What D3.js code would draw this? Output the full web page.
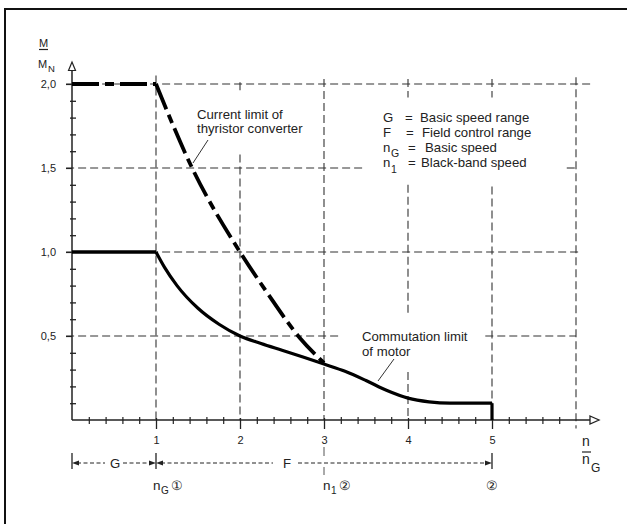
<!DOCTYPE html>
<html>
<head>
<meta charset="utf-8">
<script src="https://cdn.jsdelivr.net/npm/d3@7"></script>
<style>
  body { margin: 0; background: #fff; }
  text { font-family: "Liberation Sans", Arial, Helvetica, sans-serif; fill: #222; }
</style>
</head>
<body>
<svg id="chart" width="627" height="524"></svg>
<script>
// x: speed ratio n/nG, y: torque ratio M/MN
var xMajor = [1, 2, 3, 4, 5];
var xMajorLabels = ["1", "2", "3", "4", "5"];
var yMajor = [0.5, 1.0, 1.5, 2.0];
var yMajorLabels = ["0,5", "1,0", "1,5", "2,0"];

// current limit of thyristor converter
var currentFlatN = [0, 1];
var currentFlatM = [2.0, 2.0];
var currentN = [1, 1.43, 2, 2.32, 2.71, 3];
var currentM = [2.0, 1.5, 1.0, 0.76, 0.49, 0.34];

// commutation limit of motor
var commFlatN = [0, 1];
var commFlatM = [1.0, 1.0];
var commN = [1, 1.1, 1.25, 1.5, 1.75, 2, 2.25, 2.5, 2.75, 3, 3.25, 3.5, 3.75, 4, 4.25, 4.5, 5];
var commM = [1.0, 0.91, 0.8, 0.665, 0.57, 0.5, 0.455, 0.415, 0.375, 0.333, 0.29, 0.235, 0.175, 0.13, 0.108, 0.1, 0.1];
var commEndN = [5, 5];
var commEndM = [0.1, 0];

// grid pieces (the drawing leaves gaps for the labels)
var gridH = [
  {m: 2.0, spans: [[-0.07, 6.2]]},
  {m: 1.5, spans: [[-0.07, 3.49], [5.89, 6]]},
  {m: 1.0, spans: [[-0.07, 6.05]]},
  {m: 0.5, spans: [[-0.07, 3.17], [4.92, 6]]}
];
var gridV = [
  {n: 1, spans: [[0, 2.05]]},
  {n: 2, spans: [[1.95, 2.01], [0, 1.58]]},
  {n: 3, spans: [[0, 2.03]]},
  {n: 4, spans: [[1.92, 2.03], [0.625, 1.4], [0, 0.286]]},
  {n: 5, spans: [[1.92, 2.03], [0, 1.39]]},
  {n: 6, spans: [[-0.05, 2.04]]}
];

var svg = d3.select("#chart");
var x = d3.scaleLinear().domain([0, 6]).range([72, 576]);
var y = d3.scaleLinear().domain([0, 2]).range([420, 84]);

function pts(ns, ms) {
  return ns.map(function (n, i) { return [n, ms[i]]; });
}

// frame (only top and left edge visible)
svg.append("path")
  .attr("d", "M5,524 V9 H627")
  .attr("fill", "none").attr("stroke", "#111").attr("stroke-width", 2);

// grid
var grid = svg.append("g").attr("stroke", "#333").attr("stroke-width", 1.1)
  .attr("stroke-dasharray", "8,4");
gridH.forEach(function (g) {
  g.spans.forEach(function (s) {
    grid.append("line").attr("x1", x(s[0])).attr("x2", x(s[1]))
      .attr("y1", y(g.m)).attr("y2", y(g.m));
  });
});
gridV.forEach(function (g) {
  g.spans.forEach(function (s) {
    grid.append("line").attr("x1", x(g.n)).attr("x2", x(g.n))
      .attr("y1", y(s[1])).attr("y2", y(s[0]));
  });
});

// x axis
var xAxis = d3.axisBottom(x)
  .tickValues(xMajor)
  .tickFormat(function (d, i) { return xMajorLabels[i]; })
  .tickSize(9);
var gx = svg.append("g").attr("transform", "translate(0," + y(0) + ")").call(xAxis);
gx.select(".domain").remove();
gx.selectAll("line").attr("y1", -2).attr("stroke", "#222").attr("stroke-width", 1.3);
gx.selectAll("text").attr("y", 24).attr("dy", 0).attr("font-size", 11)
  .attr("font-family", "Liberation Sans, Arial, sans-serif").attr("fill", "#333");

var xMinor = d3.range(1, 30).map(function (i) { return i / 5; })
  .filter(function (v) { return Math.abs(v - Math.round(v)) > 0.01; });
var gxm = svg.append("g").attr("transform", "translate(0," + y(0) + ")")
  .call(d3.axisBottom(x).tickValues(xMinor).tickSize(4).tickFormat(""));
gxm.select(".domain").remove();
gxm.selectAll("line").attr("y1", -3).attr("stroke", "#222").attr("stroke-width", 1.2);

svg.append("line").attr("x1", x(0)).attr("x2", 590).attr("y1", y(0)).attr("y2", y(0))
  .attr("stroke", "#222").attr("stroke-width", 1.5);
svg.append("path").attr("d", "M590,416 L599,420 L590,424 Z")
  .attr("fill", "#fff").attr("stroke", "#222").attr("stroke-width", 1.3);

// y axis
var yAxis = d3.axisLeft(y)
  .tickValues(yMajor)
  .tickFormat(function (d, i) { return yMajorLabels[i]; })
  .tickSize(6);
var gy = svg.append("g").attr("transform", "translate(" + x(0) + ",0)").call(yAxis);
gy.select(".domain").remove();
gy.selectAll("line").attr("stroke", "#222").attr("stroke-width", 1.2);
gy.selectAll("text").attr("x", -16).attr("font-size", 11)
  .attr("font-family", "Liberation Sans, Arial, sans-serif").attr("fill", "#333");

var yMinor = d3.range(1, 21).map(function (i) { return i / 10; })
  .filter(function (v) { return Math.abs(v * 2 - Math.round(v * 2)) > 0.01; });
var gym = svg.append("g").attr("transform", "translate(" + x(0) + ",0)")
  .call(d3.axisLeft(y).tickValues(yMinor).tickSize(2).tickFormat(""));
gym.select(".domain").remove();
gym.selectAll("line").attr("x2", 4).attr("x1", -2).attr("stroke", "#222").attr("stroke-width", 1.3);

svg.append("line").attr("x1", x(0)).attr("x2", x(0)).attr("y1", y(0)).attr("y2", 70)
  .attr("stroke", "#222").attr("stroke-width", 1.5);
svg.append("path").attr("d", "M68.5,70.5 L72,62 L75.5,70.5 Z")
  .attr("fill", "#fff").attr("stroke", "#222").attr("stroke-width", 1.2);

// curves
var straight = d3.line().x(function (d) { return x(d[0]); }).y(function (d) { return y(d[1]); });
var smooth = d3.line().x(function (d) { return x(d[0]); }).y(function (d) { return y(d[1]); })
  .curve(d3.curveMonotoneX);

var dashCurrent = "27,6,9,6";
svg.append("path").attr("d", straight(pts(currentFlatN, currentFlatM)))
  .attr("fill", "none").attr("stroke", "#000").attr("stroke-width", 4)
  .attr("stroke-dasharray", dashCurrent);
svg.append("path").attr("d", smooth(pts(currentN, currentM)))
  .attr("fill", "none").attr("stroke", "#000").attr("stroke-width", 3.8)
  .attr("stroke-dasharray", dashCurrent);

svg.append("path").attr("d", straight(pts(commFlatN, commFlatM)))
  .attr("fill", "none").attr("stroke", "#000").attr("stroke-width", 3.5);
svg.append("path").attr("d", smooth(pts(commN, commM)))
  .attr("fill", "none").attr("stroke", "#000").attr("stroke-width", 3.2);
svg.append("path").attr("d", straight(pts(commEndN, commEndM)))
  .attr("fill", "none").attr("stroke", "#000").attr("stroke-width", 3.2);

// annotations
var fs = 13.2;
function label(tx, ty, str, size) {
  return svg.append("text").attr("x", tx).attr("y", ty).attr("font-size", size || fs).text(str);
}
label(197, 119, "Current limit of");
label(197, 133, "thyristor converter");
svg.append("line").attr("x1", 208).attr("y1", 140).attr("x2", 193).attr("y2", 163)
  .attr("stroke", "#333").attr("stroke-width", 1);

label(362, 341, "Commutation limit");
label(362, 356, "of motor");
svg.append("line").attr("x1", 394).attr("y1", 359).attr("x2", 378).attr("y2", 381)
  .attr("stroke", "#333").attr("stroke-width", 1);

// legend
label(383, 122, "G"); label(405, 122, "="); label(420, 122, "Basic speed range");
label(383, 137, "F"); label(406, 137, "="); label(422, 137, "Field control range");
label(383, 152, "n"); label(391, 157, "G", 10.5); label(408, 152, "="); label(425, 152, "Basic speed");
label(383, 167, "n"); label(391, 173, "1", 10.5); label(408, 167, "="); label(421, 167, "Black-band speed");

// axis titles
label(39, 47, "M", 11);
svg.append("line").attr("x1", 39).attr("x2", 48).attr("y1", 49.5).attr("y2", 49.5)
  .attr("stroke", "#222").attr("stroke-width", 1.2);
label(38, 68, "M", 11);
label(48, 72, "N", 9.5);

label(582, 446, "n", 14);
svg.append("line").attr("x1", 582).attr("x2", 591).attr("y1", 452).attr("y2", 452)
  .attr("stroke", "#222").attr("stroke-width", 1.2);
label(582, 464, "n", 14);
label(591, 472, "G", 12);

// ranges G and F under the axis
var dimY = 463;
var dim = svg.append("g").attr("stroke", "#222").attr("stroke-width", 1);
[0, 1, 5].forEach(function (v) {
  dim.append("line").attr("x1", x(v)).attr("x2", x(v)).attr("y1", dimY - 10).attr("y2", dimY + 6)
    .attr("stroke-width", 1.3);
});
[[x(0) + 5, 105], [123, x(1) - 5], [x(1) + 5, 273], [298, x(5) - 5]].forEach(function (s) {
  dim.append("line").attr("x1", s[0]).attr("x2", s[1]).attr("y1", dimY).attr("y2", dimY)
    .attr("stroke-dasharray", "4,2.5");
});
function arrowHead(tipX, dir) {
  svg.append("path")
    .attr("d", "M" + tipX + "," + dimY + " L" + (tipX + dir * 7) + "," + (dimY - 2.5) +
      " L" + (tipX + dir * 7) + "," + (dimY + 2.5) + " Z")
    .attr("fill", "#222");
}
arrowHead(x(0), 1);
arrowHead(x(1), -1);
arrowHead(x(1), 1);
arrowHead(x(5), -1);
label(110, 468, "G");
label(283, 468, "F");
svg.append("line").attr("x1", x(3)).attr("x2", x(3)).attr("y1", 447).attr("y2", 475)
  .attr("stroke", "#555").attr("stroke-width", 1).attr("stroke-dasharray", "9,11,8");

label(153, 490, "n", 13.5);
label(161, 494, "G", 10);
label(171, 490, "\u2460", 13);
label(323, 490, "n", 13.5);
label(331, 494, "1", 10);
label(339, 490, "\u2461", 13);
label(486, 490, "\u2461", 13);
</script>
</body>
</html>
